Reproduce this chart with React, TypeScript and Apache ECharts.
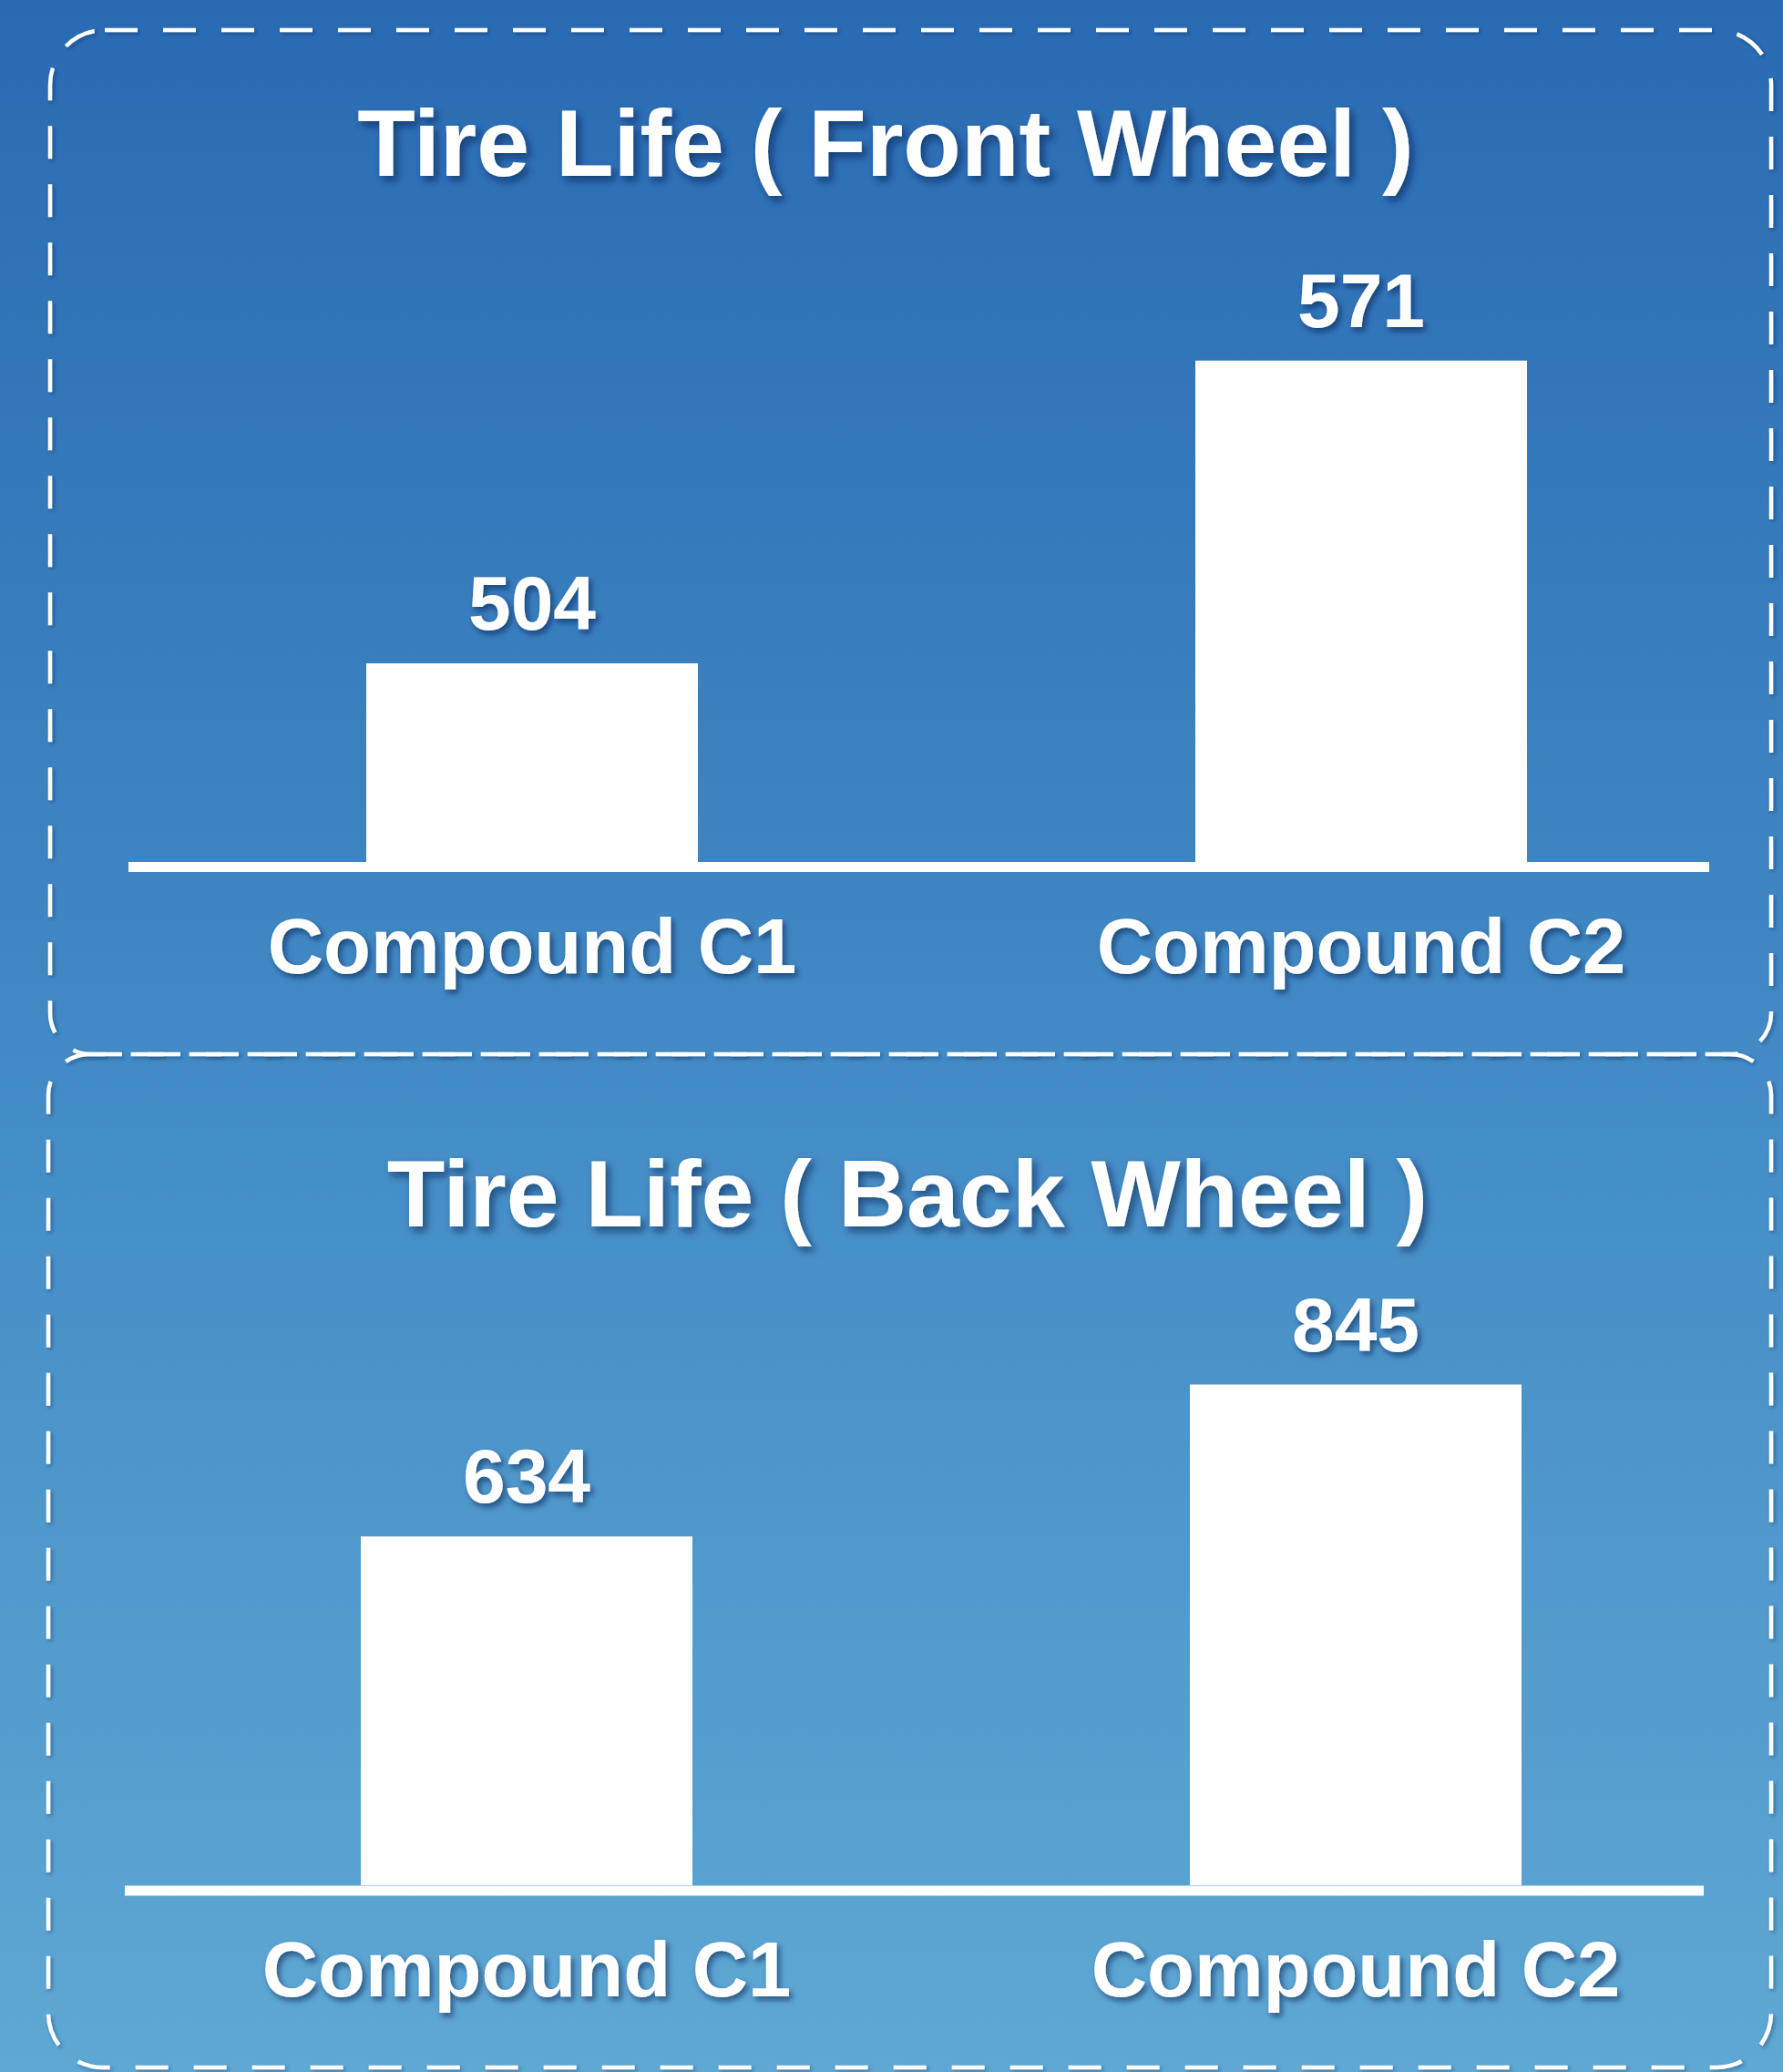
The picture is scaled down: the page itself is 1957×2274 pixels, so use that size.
import React, { useEffect, useRef } from "react";
import * as echarts from "echarts";

const categories = ["Compound C1", "Compound C2"];
const frontValues = [504, 571];
const backValues = [634, 845];
const frontTitle = "Tire Life ( Front Wheel )";
const backTitle = "Tire Life ( Back Wheel )";

const W = 1957;
const H = 2274;
const FONT = "'Liberation Sans', Arial, Helvetica, sans-serif";
const SHADOW = "rgba(0,20,60,0.55)";

export default function App() {
  const ref = useRef<HTMLDivElement>(null);
  useEffect(() => {
    document.body.style.margin = "0";
    const chart = echarts.init(ref.current!, null, { renderer: "svg" });

    const labelStyle = {
      color: "#ffffff",
      fontFamily: FONT,
      fontWeight: "bold" as const,
      textShadowColor: SHADOW,
      textShadowBlur: 6,
      textShadowOffsetX: 3,
      textShadowOffsetY: 4,
    };

    const border = (x: number, y: number, w: number, h: number, r: number[]) => ({
      type: "rect",
      shape: { x, y, width: w, height: h, r },
      style: {
        fill: "none",
        stroke: "#ffffff",
        lineWidth: 4.5,
        lineDash: [36, 28],
        shadowColor: "rgba(0,20,60,0.35)",
        shadowBlur: 4,
        shadowOffsetX: 2,
        shadowOffsetY: 2,
      },
      z: 5,
      silent: true,
    });

    const titleText = (text: string, x: number, y: number) => ({
      type: "text",
      x,
      y,
      style: {
        text,
        fill: "#ffffff",
        font: `bold 104px ${FONT}`,
        textAlign: "center",
        textVerticalAlign: "middle",
        textShadowColor: SHADOW,
        textShadowBlur: 8,
        textShadowOffsetX: 4,
        textShadowOffsetY: 5,
      },
      z: 10,
    });

    const baseline = (x1: number, x2: number, y: number) => ({
      type: "line",
      shape: { x1, y1: y, x2, y2: y },
      style: { stroke: "#ffffff", lineWidth: 11 },
      z: 8,
    });

    const xAxisCfg = (gridIndex: number) => ({
      type: "category",
      gridIndex,
      data: categories,
      axisLine: { show: false },
      axisTick: { show: false },
      axisLabel: {
        ...labelStyle,
        fontSize: 85,
        lineHeight: 85,
        margin: 50,
      },
    });

    const yAxisCfg = (gridIndex: number, min: number, max: number) => ({
      type: "value",
      gridIndex,
      min,
      max,
      show: false,
      splitLine: { show: false },
    });

    const seriesCfg = (idx: number, data: number[]) => ({
      type: "bar",
      xAxisIndex: idx,
      yAxisIndex: idx,
      data,
      barWidth: 364,
      itemStyle: { color: "#ffffff" },
      label: {
        show: true,
        position: "top",
        distance: 24,
        ...labelStyle,
        fontSize: 84,
        lineHeight: 84,
      },
      z: 6,
    });

    chart.setOption({
      animation: false,
      graphic: [
        {
          type: "rect",
          shape: { x: 0, y: 0, width: W, height: H },
          style: {
            fill: new echarts.graphic.LinearGradient(0, 0, 0, 1, [
              { offset: 0, color: "#296bb3" },
              { offset: 0.5, color: "#418ac5" },
              { offset: 1, color: "#5ea8d4" },
            ]),
          },
          z: -10,
          silent: true,
        },
        border(55, 33, 1889, 1124, [60, 60, 45, 45]),
        border(53, 1157, 1891, 1112, [45, 45, 60, 60]),
        titleText(frontTitle, 972, 157),
        titleText(backTitle, 996, 1310),
        baseline(141, 1876, 951.5),
        baseline(137, 1870, 2075),
      ],
      grid: [
        { left: 129, width: 1820, top: 252, height: 694 },
        { left: 123, width: 1820, top: 1397, height: 672 },
      ],
      xAxis: [xAxisCfg(0), xAxisCfg(1)],
      yAxis: [yAxisCfg(0, 460, 600), yAxisCfg(1, 150, 1000)],
      series: [seriesCfg(0, frontValues), seriesCfg(1, backValues)],
    });

    return () => chart.dispose();
  }, []);

  return <div ref={ref} style={{ width: W, height: H }} />;
}
